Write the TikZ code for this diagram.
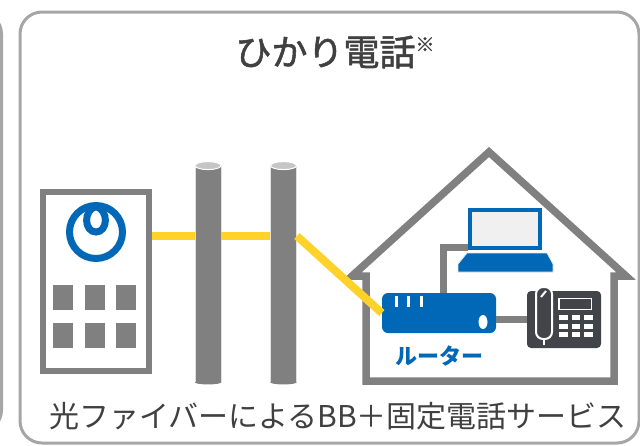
\documentclass[tikz,border=0pt]{standalone}
\usepackage{fontspec}
\setmainfont{Noto Sans CJK JP}
\newfontfamily\titlefont[FakeBold=1.5]{Noto Sans CJK JP}
\usetikzlibrary{positioning,calc}

\definecolor{panelGray}{HTML}{A6A6A6}
\definecolor{lineGray}{HTML}{808080}
\definecolor{nttBlue}{HTML}{0068B7}
\definecolor{fiberYellow}{HTML}{FFD22A}
\definecolor{phoneDark}{HTML}{414449}
\definecolor{txtGray}{HTML}{404040}
\definecolor{screenGray}{HTML}{F0F0F0}

\tikzset{
  panel/.style={draw=panelGray, line width=3pt, rounded corners=22pt},
  fiber/.style={draw=fiberYellow, line width=8pt},
  cable/.style={draw=lineGray, line width=7pt},
  pole/.style={fill=lineGray, draw=gray!25, line width=0.8pt, minimum width=26pt, minimum height=216pt, inner sep=0pt},
  window/.style={fill=lineGray},
  key/.style={fill=white},
}

\begin{document}
\begin{tikzpicture}[x=1pt, y=-1pt]
            \fill[white] (0,0) rectangle (640,445);
            \useasboundingbox (0,0) rectangle (640,445);

            % Panels
            \draw[panel] (-100,12) rectangle (1.5,432);
            \draw[panel] (20,12) rectangle (639,443);
            \node[text=txtGray, font=\titlefont\fontsize{36pt}{36pt}\selectfont, inner sep=0] (title) at (335,52) {ひかり電話\raisebox{14pt}{\fontsize{19pt}{19pt}\selectfont ※}};
            \node[text=txtGray, font=\fontsize{30pt}{30pt}\selectfont, inner sep=0] (caption) at (338,416) {光ファイバーによるBB＋固定電話サービス};

            % Office building with logo
            \node[draw=lineGray, line width=6pt, fill=white, minimum width=106pt, minimum height=179pt, inner sep=0] (bldg) at (96,281.5) {};
            \draw[nttBlue, line width=7pt] (96,232) circle [radius=26.5];
            \draw[nttBlue, line width=7pt] (96,206.5) .. controls (83,210) and (84,232) .. (96,232) .. controls (108,232) and (109,210) .. (96,206.5);
            \foreach \i in {0,1,2}
              \foreach \j in {0,1}
                \fill[window] (53+31.5*\i, 285+38*\j) rectangle +(20,25);

            % Poles
            \node[pole] (p1) at (208,274) {};
            \node[pole] (p2) at (283.5,274) {};
            \foreach \p in {p1,p2} {
              \fill[lineGray] (\p.south) ellipse [x radius=13pt, y radius=2pt];
              \filldraw[fill=gray!45, draw=white, line width=1pt] (\p.north) ellipse [x radius=13pt, y radius=4pt];
            }

            % House
            \draw[lineGray, line width=7.5pt, fill=white] (352,276) -- (489,152) -- (626,276) -- (614,276) -- (614,381) -- (366,381) -- (366,276) -- cycle;

            % Router, laptop, phone
            \node[fill=nttBlue, rounded corners=6pt, minimum width=114pt, minimum height=40pt, inner sep=0] (router) at (439,313) {};
            \foreach \bx in {396.5,408.5,421.5}
              \fill[white] (\bx-1.7,296) rectangle (\bx+1.7,307);
            \fill[white] (483,322) ellipse [x radius=4.5pt, y radius=7pt];
            \node[text=nttBlue, font=\fontsize{22pt}{22pt}\selectfont\bfseries, inner sep=0] (rlabel) at (439,356) {ルーター};

            \node[draw=nttBlue, fill=screenGray, line width=4pt, minimum width=70pt, minimum height=38pt, inner sep=0] (laptop) at (505,229) {};
            \filldraw[fill=nttBlue, draw=gray!20, line width=0.8pt] (467,253) -- (547,253) -- (553,264) -- (553,272) -- (458,272) -- (458,264) -- cycle;

            \node[fill=phoneDark, rounded corners=4pt, minimum width=74pt, minimum height=57pt, inner sep=0] (phone) at (564,319.5) {};
            \draw[white, line width=2pt, fill=phoneDark, rounded corners=7pt] (536,287) rectangle (552,339);
            \draw[white, line width=1.6pt] (544,339) -- (544,345);
            \draw[white, line width=2pt] (541,297) -- (546,291);
            \draw[white, line width=1.5pt] (559,298.5) rectangle (591.5,309.5);
            \foreach \kx in {559,571.5,584}
              \foreach \ky in {315,323.5,332}
                \fill[key] (\kx,\ky) rectangle +(8.5,5);

            % Cables
            \draw[cable] ([xshift=4pt]router.north) |- ([yshift=3pt]laptop.south west);
            \draw[cable] (router.east |- phone.west) -- (phone.west);

            % Optical fiber
            \coordinate (fy) at (0,236);
            \draw[fiber] (bldg.east |- fy) -- (p1.west |- fy);
            \draw[fiber] (p1.east |- fy) -- (p2.west |- fy);
            \draw[fiber] (p2.east |- fy) -- (router.west);
\end{tikzpicture}
\end{document}
